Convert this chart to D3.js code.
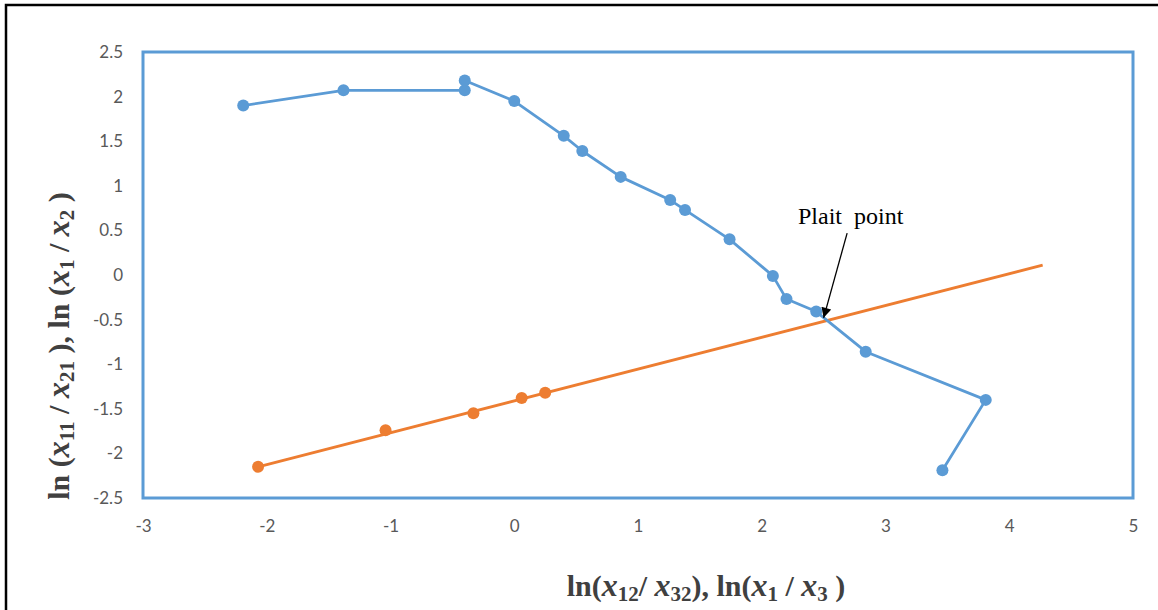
<!DOCTYPE html>
<html>
<head>
<meta charset="utf-8">
<script src="https://cdn.jsdelivr.net/npm/d3@7"></script>
<style>
  body { margin: 0; background: #fff; }
  svg { display: block; }
</style>
</head>
<body>
<svg id="maincontainer" width="1158" height="610"></svg>
<script>
// values
// blue series (line drawn in this order)
const blueX = [-2.19, -1.38, -0.40, -0.40, 0.00, 0.40, 0.55, 0.86, 1.26, 1.38, 1.74, 2.09, 2.20, 2.44, 2.84, 3.81, 3.46];
const blueY = [1.90, 2.07, 2.07, 2.18, 1.95, 1.56, 1.39, 1.10, 0.84, 0.73, 0.40, -0.01, -0.27, -0.41, -0.86, -1.40, -2.19];

// orange series (points + straight line running past them)
const orangeX = [-2.07, -1.04, -0.33, 0.06, 0.25];
const orangeY = [-2.15, -1.74, -1.55, -1.38, -1.32];
const orangeLineX = [-2.07, 4.27];
const orangeLineY = [-2.15, 0.11];

// plait point annotation
const plaitTip = [2.50, -0.48];
const plaitTail = [2.69, 0.47];
const plaitLabel = "Plait  point";

const xTicks = [-3, -2, -1, 0, 1, 2, 3, 4, 5];
const yTicks = [-2.5, -2, -1.5, -1, -0.5, 0, 0.5, 1, 1.5, 2, 2.5];

const blueCol = "#5b9bd5";
const orangeCol = "#ed7d31";

const svg = d3.select("#maincontainer");

// outer frame of the picture, right and bottom edges are cut off
svg.append("rect")
  .attr("x", 6).attr("y", 5)
  .attr("width", 1160).attr("height", 620)
  .attr("fill", "none")
  .attr("stroke", "#000")
  .attr("stroke-width", 2.5);

const plot = { left: 143, right: 1133, top: 52, bottom: 498 };

const x = d3.scaleLinear().domain([-3, 5]).range([plot.left, plot.right]);
const y = d3.scaleLinear().domain([-2.5, 2.5]).range([plot.bottom, plot.top]);

// tick labels, no tick marks, plain hyphen for minus like excel
const tickFont = "Lato, 'Open Sans', sans-serif";
const plainFmt = function (d) { return String(d); };

const gx = svg.append("g")
  .attr("transform", "translate(0," + plot.bottom + ")")
  .call(d3.axisBottom(x).tickValues(xTicks).tickSize(0).tickPadding(22).tickFormat(plainFmt));
const gy = svg.append("g")
  .attr("transform", "translate(" + plot.left + ",0)")
  .call(d3.axisLeft(y).tickValues(yTicks).tickSize(0).tickPadding(20).tickFormat(plainFmt));

[gx, gy].forEach(function (g) {
  g.select(".domain").remove();
  g.selectAll("text")
    .attr("fill", "#595959")
    .style("font-family", tickFont)
    .style("font-size", "17px");
});

// blue box round the plot area
svg.append("rect")
  .attr("x", plot.left).attr("y", plot.top)
  .attr("width", plot.right - plot.left)
  .attr("height", plot.bottom - plot.top)
  .attr("fill", "none")
  .attr("stroke", blueCol)
  .attr("stroke-width", 3);

const line = d3.line()
  .x(function (d) { return x(d[0]); })
  .y(function (d) { return y(d[1]); });

// orange line first so the blue one sits on top
const orangeLine = orangeLineX.map(function (v, i) { return [v, orangeLineY[i]]; });
svg.append("path")
  .attr("d", line(orangeLine))
  .attr("fill", "none")
  .attr("stroke", orangeCol)
  .attr("stroke-width", 2.8);

svg.append("g").selectAll("circle")
  .data(orangeX.map(function (v, i) { return [v, orangeY[i]]; }))
  .join("circle")
  .attr("cx", function (d) { return x(d[0]); })
  .attr("cy", function (d) { return y(d[1]); })
  .attr("r", 6)
  .attr("fill", orangeCol);

const bluePts = blueX.map(function (v, i) { return [v, blueY[i]]; });
svg.append("path")
  .attr("d", line(bluePts))
  .attr("fill", "none")
  .attr("stroke", blueCol)
  .attr("stroke-width", 2.8)
  .attr("stroke-linejoin", "round");

svg.append("g").selectAll("circle")
  .data(bluePts)
  .join("circle")
  .attr("cx", function (d) { return x(d[0]); })
  .attr("cy", function (d) { return y(d[1]); })
  .attr("r", 6)
  .attr("fill", blueCol);

// arrow pointing at the plait point
svg.append("defs").append("marker")
  .attr("id", "arrowhead")
  .attr("viewBox", "0 0 10 10")
  .attr("refX", 10).attr("refY", 5)
  .attr("markerWidth", 12).attr("markerHeight", 10)
  .attr("markerUnits", "userSpaceOnUse")
  .attr("orient", "auto")
  .append("path")
  .attr("d", "M0,0 L10,5 L0,10 Z")
  .attr("fill", "#000");

svg.append("line")
  .attr("x1", x(plaitTail[0])).attr("y1", y(plaitTail[1]))
  .attr("x2", x(plaitTip[0])).attr("y2", y(plaitTip[1]))
  .attr("stroke", "#000")
  .attr("stroke-width", 1.3)
  .attr("marker-end", "url(#arrowhead)");

svg.append("text")
  .attr("x", 798).attr("y", 224)
  .attr("xml:space", "preserve")
  .style("font-family", "'Liberation Serif', 'Times New Roman', serif")
  .style("font-size", "24px")
  .attr("fill", "#000")
  .text(plaitLabel);

// axis titles: bold serif with italic x and subscripts
function richLabel(parent, parts) {
  parts.forEach(function (p) {
    const t = parent.append("tspan").text(p.t);
    if (p.it) t.style("font-style", "italic").style("font-size", "32px");
    if (p.sub) t.attr("baseline-shift", "-5").style("font-size", "21px");
  });
}

const titleFont = "'Liberation Serif', 'DejaVu Serif', serif";

const xTitle = svg.append("text")
  .attr("x", 706).attr("y", 596)
  .attr("text-anchor", "middle")
  .attr("xml:space", "preserve")
  .style("font-family", titleFont)
  .style("font-weight", "bold")
  .style("font-size", "30px")
  .attr("fill", "#404040");
richLabel(xTitle, [
  { t: "ln(" }, { t: "x", it: true }, { t: "12", sub: true }, { t: "/ " },
  { t: "x", it: true }, { t: "32", sub: true }, { t: "), ln(" },
  { t: "x", it: true }, { t: "1", sub: true }, { t: " / " },
  { t: "x", it: true }, { t: "3", sub: true }, { t: " )" }
]);

const yTitle = svg.append("text")
  .attr("transform", "translate(69,346) rotate(-90)")
  .attr("text-anchor", "middle")
  .attr("xml:space", "preserve")
  .style("font-family", titleFont)
  .style("font-weight", "bold")
  .style("font-size", "30px")
  .attr("fill", "#404040");
richLabel(yTitle, [
  { t: "ln (" }, { t: "x", it: true }, { t: "11", sub: true }, { t: " / " },
  { t: "x", it: true }, { t: "21", sub: true }, { t: " ), ln (" },
  { t: "x", it: true }, { t: "1", sub: true }, { t: " / " },
  { t: "x", it: true }, { t: "2", sub: true }, { t: " )" }
]);
</script>
</body>
</html>
